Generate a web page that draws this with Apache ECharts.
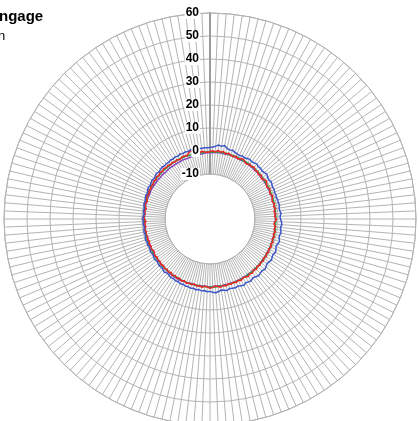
<!DOCTYPE html>
<html>
<head>
<meta charset="utf-8">
<script src="https://cdn.jsdelivr.net/npm/echarts@6/dist/echarts.min.js"></script>
<style>
  html, body { margin: 0; padding: 0; background: #fff; }
  #chart { width: 419px; height: 421px; }
</style>
</head>
<body>
<div id="chart"></div>
<script>
// Radial scale ticks
const radialTicks = [-10, 0, 10, 20, 30, 40, 50, 60];
// 160 directions, 2.25 degrees apart, clockwise from the top
const directionCount = 160;

// Gain readings per direction (dB)
const bluePattern = [
  1.5, 1.8, 2.2, 2.8, 2.4, 3.0, 2.1, 1.6, 1.9,
  1.4, 1.1, 0.9, 1.2, 1.0, 1.3, 1.6, 1.2, 1.5, 1.8, 1.4,
  1.6, 1.3, 1.5, 1.9, 1.4, 1.1, 1.6, 1.3, 0.9, 1.2, 0.8, 1.0,
  0.7, 1.1, 0.9, 1.3, 0.8, 1.0, 1.4, 0.9, 1.1, 1.5, 1.8, 1.3, 1.6,
  1.9, 1.4, 1.7, 2.2, 1.8, 1.5, 2.0, 2.4, 1.9, 2.1, 2.6, 2.2, 1.9, 2.5, 2.8,
  2.3, 2.6, 2.9, 2.4, 2.1, 2.7, 2.5, 2.2, 2.8, 2.4, 2.0, 2.3,
  2.1, 1.8, 2.4, 2.0, 1.7, 2.2, 2.6, 2.3, 1.9, 2.1, 1.6, 1.9, 1.5, 1.8, 1.4, 1.7, 1.3,
  1.5, 1.1, 1.4, 0.9, 1.2, 0.8, 1.1, 0.7, 0.4, 0.9, 0.5, 0.2,
  0.4, 0.1, -0.2, 0.3, -0.1, -0.4, 0.0, -0.3, -0.6, -0.2, -0.5, -0.1, -0.4, -0.7, -0.3,
  -0.5, -0.8, -0.4, -0.6, -0.2, -0.5, -0.9, -0.4, -0.6, -0.3, -0.1, -0.4, 0.0,
  0.2, -0.1, 0.3, 0.6, 0.2, 0.5, 0.8, 0.4, 0.7, 1.0, 0.6, 0.9, 1.2, 0.8, 1.1, 0.9, 1.3,
  1.0, 1.4, 1.1, 1.6, 1.2, 1.5, 1.3, 1.7, 1.4, 1.2, 1.6, 1.3, 1.5, 1.4
];
const redPattern = [
  -0.3, 0.2, -0.4, 0.5, -0.2, 0.4, -0.5, 0.2, -0.4,
  -0.7, 0.0, -0.8, -0.1, 0.2, -0.5, -0.9, -0.1, -0.6, 0.1, -0.8,
  -0.3, -1.0, -0.2, -1.1, -0.5, 0.0, -0.8, -1.2, -0.4, -0.9, -1.3, -0.5,
  -1.1, -1.5, -0.7, -1.4, -0.6, -1.6, -0.9, -1.5, -0.6, -1.3, -1.7, -0.8, -1.4,
  -0.6, -1.3, -0.5, -1.2, -0.4, -1.1, -0.3, -1.0, -0.2, -0.9, -0.1, -0.8, 0.0, -0.7, 0.1,
  -0.5, 0.2, -0.4, 0.4, -0.2, 0.5, 0.0, -0.3, 0.4, -0.2, 0.3, -0.3,
  0.3, -0.3, 0.4, -0.2, 0.5, 0.0, -0.4, 0.2, 0.6, 0.0, -0.3, 0.4, -0.2, 0.2, -0.5, 0.1, -0.3,
  0.2, -0.5, 0.1, -0.6, 0.0, -0.7, -0.1, -0.8, -0.2, -0.9, -0.3, -1.0,
  -0.4, -1.1, -0.5, -1.3, -0.6, -1.2, -1.5, -0.7, -1.4, -0.8, -1.6, -0.9, -1.5, -0.8, -1.4,
  -0.7, -1.5, -0.9, -1.7, -1.0, -0.7, -1.4, -0.8, -1.5, -0.9, -0.5, -1.3, -0.7,
  -0.3, -1.0, -0.2, -0.8, -0.1, -0.7, 0.0, -0.6, 0.1, -0.5, 0.2, -0.4, 0.3, -0.3, 0.1, -0.4, 0.0,
  -0.5, 0.0, -0.6, -0.1, 0.1, -0.4, 0.6, 1.2, 0.4, -0.2, -0.4, 0.1, -0.3, -0.5
];
const greenPattern = [
  -0.4, -0.3, -0.3, -0.2, -0.3, -0.2, -0.2, -0.3, -0.3,
  -0.2, -0.3, -0.2, -0.3, -0.4, -0.3, -0.2, -0.3, -0.4, -0.3, -0.4,
  -0.5, -0.4, -0.5, -0.6, -0.5, -0.6, -0.7, -0.6, -0.7, -0.8, -0.7, -0.8,
  -0.8, -0.9, -0.8, -0.9, -1.0, -0.9, -1.0, -0.9, -1.0, -0.9, -1.0, -0.9, -0.8,
  -0.9, -0.8, -0.8, -0.7, -0.8, -0.7, -0.6, -0.7, -0.6, -0.5, -0.6, -0.5, -0.4, -0.5, -0.4,
  -0.3, -0.4, -0.3, -0.2, -0.3, -0.2, -0.1, -0.2, -0.1, -0.2, -0.1, 0.0,
  -0.1, 0.0, 0.1, 0.0, -0.1, 0.0, 0.1, 0.0, 0.1, 0.0, -0.1, 0.0, -0.1, -0.2, -0.1, -0.2, -0.1,
  -0.2, -0.3, -0.2, -0.3, -0.4, -0.3, -0.4, -0.5, -0.4, -0.5, -0.6, -0.5,
  -0.6, -0.7, -0.6, -0.7, -0.8, -0.7, -0.8, -0.9, -0.8, -0.9, -0.8, -0.9, -1.0, -0.9, -1.0,
  -0.9, -1.0, -0.9, -1.0, -0.9, -0.8, -0.9, -0.8, -0.9, -0.8, -0.7, -0.8, -0.7,
  -0.6, -0.7, -0.6, -0.5, -0.6, -0.5, -0.4, -0.5, -0.4, -0.5, -0.4, -0.3, -0.4, -0.3, -0.4, -0.3, -0.4,
  -0.3, -0.4, -0.3, -0.4, -0.3, -0.4, -0.5, -0.4, -0.5, -0.6, -0.5, -0.6, -0.5, -0.4
];
const purplePattern = [
  -0.6, -0.7, -0.5, -0.6, -0.4, -0.5, -0.6, -0.4, -0.5,
  -0.5, -0.6, -0.5, -0.7, -0.6, -0.5, -0.6, -0.7, -0.6, -0.7, -0.8,
  -0.7, -0.8, -0.9, -0.8, -0.9, -1.0, -0.9, -1.0, -1.1, -1.0, -1.1, -1.0,
  -1.1, -1.2, -1.1, -1.2, -1.1, -1.2, -1.3, -1.2, -1.1, -1.2, -1.1, -1.0, -1.1,
  -1.0, -0.9, -1.0, -0.9, -0.8, -0.9, -0.8, -0.7, -0.8, -0.7, -0.6, -0.7, -0.6, -0.5, -0.6,
  -0.5, -0.4, -0.5, -0.4, -0.3, -0.4, -0.3, -0.4, -0.3, -0.2, -0.3, -0.2,
  -0.3, -0.2, -0.3, -0.2, -0.1, -0.2, -0.3, -0.2, -0.1, -0.2, -0.3, -0.2, -0.3, -0.2, -0.3, -0.4, -0.3,
  -0.2, -0.1, 0.0, 0.1, 0.0, -0.1, 0.0, -0.2, -0.3, -0.4, -0.5, -0.6,
  -0.7, -0.8, -0.9, -0.8, -0.9, -1.0, -1.1, -1.0, -1.1, -1.2, -1.1, -1.2, -1.1, -1.0, -1.1,
  -1.0, -1.1, -1.2, -1.1, -1.0, -1.1, -1.0, -0.9, -1.0, -0.9, -1.0, -1.1, -1.0,
  -1.1, -1.2, -1.1, -1.0, -1.1, -1.2, -1.3, -1.2, -1.3, -1.4, -1.3, -1.4, -1.5, -1.4, -1.3, -1.4, -1.5,
  -1.4, -1.5, -1.4, -1.3, -1.4, -1.5, -1.4, -1.3, -1.2, -1.3, -1.1, -1.0, -0.8, -0.7
];

const step = 360 / directionCount;
const gridColor = '#b4b4b4';

// [radius, angle] pairs; the first reading is repeated at 360 so each trace closes
function ring(values) {
  const pts = values.map((v, i) => [v, i * step]);
  pts.push([values[0], 360]);
  return pts;
}

function trace(name, values, color) {
  return {
    name: name,
    type: 'line',
    coordinateSystem: 'polar',
    polarIndex: 0,
    data: ring(values),
    showSymbol: false,
    smooth: false,
    lineStyle: { color: color, width: 1.5 },
    itemStyle: { color: color },
    animation: false,
    z: 2
  };
}

const chart = echarts.init(document.getElementById('chart'), null, { renderer: 'canvas' });

chart.setOption({
  animation: false,
  backgroundColor: '#ffffff',
  polar: [
    { center: [210, 219], radius: [45, 206] },
    { center: [210, 219], radius: [45, 206] }
  ],
  angleAxis: [
    {
      polarIndex: 0,
      type: 'value',
      min: 0,
      max: 360,
      interval: step,
      startAngle: 90,
      clockwise: true,
      axisLine: { show: true, lineStyle: { color: gridColor, width: 1 } },
      axisTick: { show: false },
      axisLabel: { show: false },
      splitLine: { show: true, lineStyle: { color: gridColor, width: 1 } }
    },
    {
      polarIndex: 1,
      type: 'value',
      min: 0,
      max: 360,
      startAngle: 90,
      axisLine: { show: false },
      axisTick: { show: false },
      axisLabel: { show: false },
      splitLine: { show: false }
    }
  ],
  radiusAxis: [
    {
      polarIndex: 0,
      type: 'value',
      min: radialTicks[0],
      max: radialTicks[radialTicks.length - 1],
      interval: 10,
      axisLine: { show: true, lineStyle: { color: '#9a9a9a', width: 2 } },
      axisTick: { show: false },
      axisLabel: { show: false },
      splitLine: { show: true, lineStyle: { color: gridColor, width: 1 } }
    },
    {
      // labels drawn on a twin axis so they sit above the traces
      polarIndex: 1,
      type: 'value',
      min: radialTicks[0],
      max: radialTicks[radialTicks.length - 1],
      interval: 10,
      z: 5,
      axisLine: { show: false },
      axisTick: { show: false },
      splitLine: { show: false },
      axisLabel: {
        show: true,
        color: '#000',
        fontFamily: 'Liberation Sans, Arial, sans-serif',
        fontSize: 12,
        fontWeight: 'bold',
        backgroundColor: '#ffffff',
        padding: [0, 1, 0, 1],
        margin: 10
      }
    }
  ],
  graphic: [
    {
      type: 'text', left: -1, top: 9,
      style: { text: 'ngage', fill: '#000', font: 'bold 15px "Liberation Sans", Arial, sans-serif' }
    },
    {
      type: 'text', left: -2, top: 30,
      style: { text: 'n', fill: '#000', font: '13px "Liberation Sans", Arial, sans-serif' }
    }
  ],
  series: [
    trace('Purple', purplePattern, '#8a3fc0'),
    trace('Green', greenPattern, '#1fa64a'),
    trace('Red', redPattern, '#f02424'),
    trace('Blue', bluePattern, '#3b55c6')
  ]
});
</script>
</body>
</html>
